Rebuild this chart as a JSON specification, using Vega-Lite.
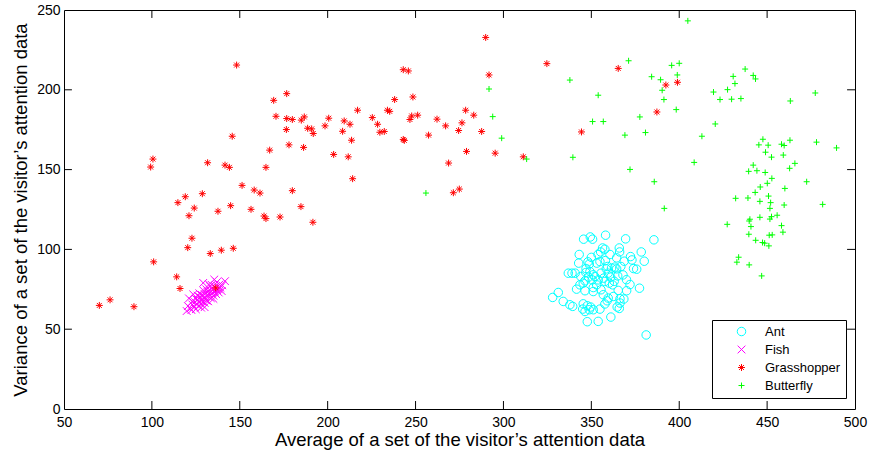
{
"$schema": "https://vega.github.io/schema/vega-lite/v6.json",
"width": 791, "height": 399,
"autosize": {"type": "none"},
"padding": {"left": 64, "top": 10, "right": 16, "bottom": 43},
"background": "white",
"config": {
  "view": {"stroke": "black", "strokeWidth": 1},
  "font": "Liberation Sans",
  "axis": {"grid": false, "domain": false, "ticks": false, "labelFlush": false,
           "labelColor": "black", "labelFontSize": 14, "labelFont": "Liberation Sans",
           "titleFont": "Liberation Sans", "titleFontSize": 18.5, "titleFontWeight": "normal", "titleColor": "black"},
  "axisX": {"labelPadding": 6, "titlePadding": 1},
  "axisY": {"labelPadding": 4, "titlePadding": 6},
  "legend": {"strokeColor": "black", "strokeWidth": 1, "fillColor": "white", "padding": 5,
             "labelFontSize": 13, "labelFont": "Liberation Sans", "labelColor": "black",
             "symbolOffset": 18, "labelOffset": 17, "rowPadding": 4, "symbolStrokeWidth": 1.2}
},
"datasets": {
"xticks": [{"tx":100,"ty":0,"ty2":5},{"tx":150,"ty":0,"ty2":5},{"tx":200,"ty":0,"ty2":5},{"tx":250,"ty":0,"ty2":5},{"tx":300,"ty":0,"ty2":5},{"tx":350,"ty":0,"ty2":5},{"tx":400,"ty":0,"ty2":5},{"tx":450,"ty":0,"ty2":5},{"tx":100,"ty":245,"ty2":250},{"tx":150,"ty":245,"ty2":250},{"tx":200,"ty":245,"ty2":250},{"tx":250,"ty":245,"ty2":250},{"tx":300,"ty":245,"ty2":250},{"tx":350,"ty":245,"ty2":250},{"tx":400,"ty":245,"ty2":250},{"tx":450,"ty":245,"ty2":250}],
"yticks": [{"tx":50,"tx2":54.5,"ty":50},{"tx":50,"tx2":54.5,"ty":100},{"tx":50,"tx2":54.5,"ty":150},{"tx":50,"tx2":54.5,"ty":200},{"tx":495.5,"tx2":500,"ty":50},{"tx":495.5,"tx2":500,"ty":100},{"tx":495.5,"tx2":500,"ty":150},{"tx":495.5,"tx2":500,"ty":200}],
"pts": [
{"avg":358.1,"var":108.9,"cls":"Ant"},{"avg":345.6,"var":106.4,"cls":"Ant"},{"avg":349.4,"var":107.8,"cls":"Ant"},{"avg":350.7,"var":106.4,"cls":"Ant"},{"avg":369.5,"var":106.6,"cls":"Ant"},{"avg":385.6,"var":106,"cls":"Ant"},{"avg":343.1,"var":96.8,"cls":"Ant"},{"avg":356.4,"var":100.9,"cls":"Ant"},{"avg":357.7,"var":100.1,"cls":"Ant"},{"avg":355.3,"var":98.4,"cls":"Ant"},{"avg":353.8,"var":96.8,"cls":"Ant"},{"avg":365.9,"var":100.9,"cls":"Ant"},{"avg":366.1,"var":98.4,"cls":"Ant"},{"avg":360.6,"var":96.8,"cls":"Ant"},{"avg":364.4,"var":94.7,"cls":"Ant"},{"avg":372.3,"var":95.5,"cls":"Ant"},{"avg":373.1,"var":93.4,"cls":"Ant"},{"avg":378.4,"var":98.4,"cls":"Ant"},{"avg":380.1,"var":92.6,"cls":"Ant"},{"avg":342.8,"var":91.4,"cls":"Ant"},{"avg":348.1,"var":92.2,"cls":"Ant"},{"avg":348.8,"var":90.8,"cls":"Ant"},{"avg":353.1,"var":91.4,"cls":"Ant"},{"avg":354.9,"var":92.4,"cls":"Ant"},{"avg":359.3,"var":89.3,"cls":"Ant"},{"avg":361.5,"var":88.3,"cls":"Ant"},{"avg":363.4,"var":88.9,"cls":"Ant"},{"avg":366.8,"var":89.3,"cls":"Ant"},{"avg":368.7,"var":92.6,"cls":"Ant"},{"avg":374,"var":88,"cls":"Ant"},{"avg":375.8,"var":87.6,"cls":"Ant"},{"avg":336.9,"var":85.1,"cls":"Ant"},{"avg":339,"var":85.1,"cls":"Ant"},{"avg":340.8,"var":85.1,"cls":"Ant"},{"avg":346.9,"var":85.5,"cls":"Ant"},{"avg":349.2,"var":86.1,"cls":"Ant"},{"avg":351.1,"var":84.1,"cls":"Ant"},{"avg":348.4,"var":82.6,"cls":"Ant"},{"avg":350.5,"var":80.9,"cls":"Ant"},{"avg":346.4,"var":80.3,"cls":"Ant"},{"avg":355.5,"var":85.1,"cls":"Ant"},{"avg":358.5,"var":87.8,"cls":"Ant"},{"avg":359.6,"var":85.1,"cls":"Ant"},{"avg":361,"var":82.6,"cls":"Ant"},{"avg":365,"var":83.4,"cls":"Ant"},{"avg":364.4,"var":87.8,"cls":"Ant"},{"avg":357.7,"var":79.9,"cls":"Ant"},{"avg":360.2,"var":78.9,"cls":"Ant"},{"avg":362.1,"var":77.8,"cls":"Ant"},{"avg":353.9,"var":80.9,"cls":"Ant"},{"avg":353,"var":77.8,"cls":"Ant"},{"avg":351.1,"var":76.1,"cls":"Ant"},{"avg":345.4,"var":78.9,"cls":"Ant"},{"avg":343.5,"var":77.8,"cls":"Ant"},{"avg":341.6,"var":75.1,"cls":"Ant"},{"avg":346.4,"var":74.1,"cls":"Ant"},{"avg":351.1,"var":73.6,"cls":"Ant"},{"avg":355.5,"var":74.7,"cls":"Ant"},{"avg":356.8,"var":71.6,"cls":"Ant"},{"avg":365.3,"var":74.3,"cls":"Ant"},{"avg":370.1,"var":74.1,"cls":"Ant"},{"avg":377.4,"var":75.7,"cls":"Ant"},{"avg":366.3,"var":69.1,"cls":"Ant"},{"avg":368.5,"var":68.9,"cls":"Ant"},{"avg":366.3,"var":66.4,"cls":"Ant"},{"avg":362.5,"var":70.5,"cls":"Ant"},{"avg":359.6,"var":69.5,"cls":"Ant"},{"avg":359,"var":67.8,"cls":"Ant"},{"avg":357.7,"var":65.8,"cls":"Ant"},{"avg":331.2,"var":73,"cls":"Ant"},{"avg":328,"var":69.9,"cls":"Ant"},{"avg":334,"var":67.4,"cls":"Ant"},{"avg":337.8,"var":65.3,"cls":"Ant"},{"avg":339.4,"var":64.3,"cls":"Ant"},{"avg":345.4,"var":65.9,"cls":"Ant"},{"avg":347.7,"var":64.7,"cls":"Ant"},{"avg":345.1,"var":62.6,"cls":"Ant"},{"avg":346.4,"var":61.1,"cls":"Ant"},{"avg":349.6,"var":63.9,"cls":"Ant"},{"avg":351.1,"var":62.2,"cls":"Ant"},{"avg":354.9,"var":62.6,"cls":"Ant"},{"avg":348.8,"var":62.2,"cls":"Ant"},{"avg":364.7,"var":63.9,"cls":"Ant"},{"avg":365.9,"var":63,"cls":"Ant"},{"avg":361.1,"var":57.6,"cls":"Ant"},{"avg":347.7,"var":54.7,"cls":"Ant"},{"avg":353.9,"var":54.9,"cls":"Ant"},{"avg":381.2,"var":46.4,"cls":"Ant"},{"avg":352,"var":83,"cls":"Ant"},{"avg":357,"var":82,"cls":"Ant"},{"avg":363,"var":80,"cls":"Ant"},{"avg":347,"var":88,"cls":"Ant"},{"avg":344,"var":83,"cls":"Ant"},{"avg":370,"var":81,"cls":"Ant"},{"avg":372,"var":78,"cls":"Ant"},{"avg":368,"var":84,"cls":"Ant"},{"avg":358,"var":93,"cls":"Ant"},{"avg":350,"var":95,"cls":"Ant"},
{"avg":119.8,"var":61.4,"cls":"Fish"},{"avg":121.1,"var":69.3,"cls":"Fish"},{"avg":123.5,"var":71.8,"cls":"Fish"},{"avg":129.2,"var":79,"cls":"Fish"},{"avg":135.5,"var":81.1,"cls":"Fish"},{"avg":141.6,"var":80.1,"cls":"Fish"},{"avg":139.7,"var":73.9,"cls":"Fish"},{"avg":122,"var":63,"cls":"Fish"},{"avg":123,"var":65.5,"cls":"Fish"},{"avg":124,"var":64,"cls":"Fish"},{"avg":124.5,"var":67,"cls":"Fish"},{"avg":125,"var":62.5,"cls":"Fish"},{"avg":125.5,"var":66,"cls":"Fish"},{"avg":126,"var":68.5,"cls":"Fish"},{"avg":126.5,"var":64.5,"cls":"Fish"},{"avg":127,"var":67,"cls":"Fish"},{"avg":127.5,"var":70,"cls":"Fish"},{"avg":128,"var":65.5,"cls":"Fish"},{"avg":128,"var":68,"cls":"Fish"},{"avg":128.5,"var":71.5,"cls":"Fish"},{"avg":129,"var":67,"cls":"Fish"},{"avg":129.5,"var":69.5,"cls":"Fish"},{"avg":130,"var":72,"cls":"Fish"},{"avg":130,"var":66.5,"cls":"Fish"},{"avg":130.5,"var":70,"cls":"Fish"},{"avg":131,"var":68,"cls":"Fish"},{"avg":131.5,"var":73.5,"cls":"Fish"},{"avg":132,"var":70.5,"cls":"Fish"},{"avg":132,"var":67.5,"cls":"Fish"},{"avg":132.5,"var":72,"cls":"Fish"},{"avg":133,"var":74.5,"cls":"Fish"},{"avg":133.5,"var":69.5,"cls":"Fish"},{"avg":134,"var":72.5,"cls":"Fish"},{"avg":134.5,"var":75,"cls":"Fish"},{"avg":135,"var":71,"cls":"Fish"},{"avg":135.5,"var":73.5,"cls":"Fish"},{"avg":136,"var":76.5,"cls":"Fish"},{"avg":136.5,"var":72,"cls":"Fish"},{"avg":137,"var":74.5,"cls":"Fish"},{"avg":137.5,"var":77,"cls":"Fish"},{"avg":138,"var":75,"cls":"Fish"},{"avg":138.5,"var":78,"cls":"Fish"},{"avg":139,"var":76,"cls":"Fish"},{"avg":140,"var":77.5,"cls":"Fish"},{"avg":127,"var":72.5,"cls":"Fish"},{"avg":125,"var":69,"cls":"Fish"},{"avg":131,"var":75,"cls":"Fish"},{"avg":133,"var":77,"cls":"Fish"},{"avg":128,"var":63.5,"cls":"Fish"},{"avg":135,"var":69,"cls":"Fish"},{"avg":123,"var":67.5,"cls":"Fish"},{"avg":126,"var":71,"cls":"Fish"},{"avg":129.5,"var":74,"cls":"Fish"},{"avg":132.5,"var":78,"cls":"Fish"},{"avg":137,"var":79.5,"cls":"Fish"},{"avg":122.5,"var":62,"cls":"Fish"},{"avg":120.5,"var":64.5,"cls":"Fish"},{"avg":138,"var":73,"cls":"Fish"},{"avg":134,"var":77.8,"cls":"Fish"},{"avg":130,"var":63.8,"cls":"Fish"},
{"avg":148.2,"var":215.5,"cls":"Grasshopper"},{"avg":176.7,"var":197.6,"cls":"Grasshopper"},{"avg":169.3,"var":193.4,"cls":"Grasshopper"},{"avg":170.6,"var":183.4,"cls":"Grasshopper"},{"avg":176.7,"var":182,"cls":"Grasshopper"},{"avg":179.9,"var":181.4,"cls":"Grasshopper"},{"avg":185,"var":181,"cls":"Grasshopper"},{"avg":186.7,"var":183,"cls":"Grasshopper"},{"avg":200.6,"var":182.2,"cls":"Grasshopper"},{"avg":209.4,"var":180.5,"cls":"Grasshopper"},{"avg":212.7,"var":178.4,"cls":"Grasshopper"},{"avg":217,"var":187.2,"cls":"Grasshopper"},{"avg":176.5,"var":175.1,"cls":"Grasshopper"},{"avg":188.6,"var":175.9,"cls":"Grasshopper"},{"avg":190.9,"var":175.5,"cls":"Grasshopper"},{"avg":191.8,"var":172.6,"cls":"Grasshopper"},{"avg":198.5,"var":177.4,"cls":"Grasshopper"},{"avg":208.5,"var":174,"cls":"Grasshopper"},{"avg":213.6,"var":168.4,"cls":"Grasshopper"},{"avg":145.7,"var":170.9,"cls":"Grasshopper"},{"avg":167,"var":162.2,"cls":"Grasshopper"},{"avg":178,"var":165.5,"cls":"Grasshopper"},{"avg":186.3,"var":163.9,"cls":"Grasshopper"},{"avg":203.4,"var":159.5,"cls":"Grasshopper"},{"avg":211.7,"var":158,"cls":"Grasshopper"},{"avg":214.2,"var":144.3,"cls":"Grasshopper"},{"avg":100.6,"var":156.6,"cls":"Grasshopper"},{"avg":99.3,"var":151.6,"cls":"Grasshopper"},{"avg":131.7,"var":154.3,"cls":"Grasshopper"},{"avg":141.6,"var":152.8,"cls":"Grasshopper"},{"avg":144.1,"var":151.4,"cls":"Grasshopper"},{"avg":164.9,"var":151.4,"cls":"Grasshopper"},{"avg":151.3,"var":140.1,"cls":"Grasshopper"},{"avg":158.2,"var":137.2,"cls":"Grasshopper"},{"avg":161.5,"var":135.3,"cls":"Grasshopper"},{"avg":179.9,"var":136.8,"cls":"Grasshopper"},{"avg":119,"var":133,"cls":"Grasshopper"},{"avg":114.8,"var":129.3,"cls":"Grasshopper"},{"avg":128.7,"var":134.9,"cls":"Grasshopper"},{"avg":124.1,"var":125.9,"cls":"Grasshopper"},{"avg":121.1,"var":121.1,"cls":"Grasshopper"},{"avg":137.6,"var":123.9,"cls":"Grasshopper"},{"avg":144.8,"var":127.4,"cls":"Grasshopper"},{"avg":156.4,"var":125.1,"cls":"Grasshopper"},{"avg":163.8,"var":120.9,"cls":"Grasshopper"},{"avg":164.9,"var":119.3,"cls":"Grasshopper"},{"avg":172.9,"var":120.3,"cls":"Grasshopper"},{"avg":184.8,"var":126.8,"cls":"Grasshopper"},{"avg":191.6,"var":117,"cls":"Grasshopper"},{"avg":122.8,"var":107,"cls":"Grasshopper"},{"avg":120.4,"var":101.1,"cls":"Grasshopper"},{"avg":133.2,"var":97.4,"cls":"Grasshopper"},{"avg":139.5,"var":99.5,"cls":"Grasshopper"},{"avg":146.3,"var":100.7,"cls":"Grasshopper"},{"avg":101,"var":92.2,"cls":"Grasshopper"},{"avg":114.1,"var":82.8,"cls":"Grasshopper"},{"avg":116,"var":75.5,"cls":"Grasshopper"},{"avg":136.3,"var":75.9,"cls":"Grasshopper"},{"avg":70.1,"var":64.9,"cls":"Grasshopper"},{"avg":76.2,"var":68.4,"cls":"Grasshopper"},{"avg":89.8,"var":64.1,"cls":"Grasshopper"},{"avg":289.9,"var":232.8,"cls":"Grasshopper"},{"avg":324.7,"var":216.4,"cls":"Grasshopper"},{"avg":243,"var":212.6,"cls":"Grasshopper"},{"avg":245.9,"var":211.8,"cls":"Grasshopper"},{"avg":291.8,"var":209.3,"cls":"Grasshopper"},{"avg":238.1,"var":193.9,"cls":"Grasshopper"},{"avg":248.5,"var":195.5,"cls":"Grasshopper"},{"avg":234,"var":187.2,"cls":"Grasshopper"},{"avg":235.3,"var":186.5,"cls":"Grasshopper"},{"avg":225.4,"var":182.6,"cls":"Grasshopper"},{"avg":228.4,"var":178.4,"cls":"Grasshopper"},{"avg":229.7,"var":173.4,"cls":"Grasshopper"},{"avg":232.2,"var":173.9,"cls":"Grasshopper"},{"avg":246.8,"var":181.4,"cls":"Grasshopper"},{"avg":247.8,"var":183.6,"cls":"Grasshopper"},{"avg":251.2,"var":184.1,"cls":"Grasshopper"},{"avg":262.2,"var":181.6,"cls":"Grasshopper"},{"avg":267.1,"var":177.4,"cls":"Grasshopper"},{"avg":278.5,"var":187.2,"cls":"Grasshopper"},{"avg":283.1,"var":184.1,"cls":"Grasshopper"},{"avg":276.4,"var":179.3,"cls":"Grasshopper"},{"avg":274.5,"var":174.5,"cls":"Grasshopper"},{"avg":287.6,"var":173.9,"cls":"Grasshopper"},{"avg":257.4,"var":171.6,"cls":"Grasshopper"},{"avg":243,"var":168.9,"cls":"Grasshopper"},{"avg":243.6,"var":168.3,"cls":"Grasshopper"},{"avg":279,"var":161.4,"cls":"Grasshopper"},{"avg":295.3,"var":160.3,"cls":"Grasshopper"},{"avg":268.8,"var":154.1,"cls":"Grasshopper"},{"avg":344.4,"var":173.6,"cls":"Grasshopper"},{"avg":311.3,"var":158,"cls":"Grasshopper"},{"avg":271.5,"var":135.5,"cls":"Grasshopper"},{"avg":274.9,"var":137.8,"cls":"Grasshopper"},{"avg":365.3,"var":213.4,"cls":"Grasshopper"},{"avg":392.4,"var":203,"cls":"Grasshopper"},{"avg":399,"var":204.7,"cls":"Grasshopper"},{"avg":387.3,"var":186.1,"cls":"Grasshopper"},
{"avg":291.8,"var":200.5,"cls":"Butterfly"},{"avg":293.9,"var":183.2,"cls":"Butterfly"},{"avg":299,"var":169.7,"cls":"Butterfly"},{"avg":313.2,"var":156.6,"cls":"Butterfly"},{"avg":255.9,"var":135.3,"cls":"Butterfly"},{"avg":337.8,"var":206.1,"cls":"Butterfly"},{"avg":353.9,"var":196.6,"cls":"Butterfly"},{"avg":350.7,"var":180.1,"cls":"Butterfly"},{"avg":339.5,"var":157.7,"cls":"Butterfly"},{"avg":404.9,"var":243.2,"cls":"Butterfly"},{"avg":371.2,"var":218.2,"cls":"Butterfly"},{"avg":395.7,"var":215.3,"cls":"Butterfly"},{"avg":400,"var":216.6,"cls":"Butterfly"},{"avg":398.9,"var":209.3,"cls":"Butterfly"},{"avg":384.3,"var":208.2,"cls":"Butterfly"},{"avg":389.4,"var":206.3,"cls":"Butterfly"},{"avg":390.3,"var":199.7,"cls":"Butterfly"},{"avg":391.3,"var":193.9,"cls":"Butterfly"},{"avg":398.3,"var":187.6,"cls":"Butterfly"},{"avg":377.6,"var":183,"cls":"Butterfly"},{"avg":356.8,"var":180.1,"cls":"Butterfly"},{"avg":369.1,"var":171.6,"cls":"Butterfly"},{"avg":380.8,"var":173.2,"cls":"Butterfly"},{"avg":412.9,"var":170.9,"cls":"Butterfly"},{"avg":420.5,"var":178.6,"cls":"Butterfly"},{"avg":372,"var":150.1,"cls":"Butterfly"},{"avg":408.5,"var":154.5,"cls":"Butterfly"},{"avg":385.8,"var":142.4,"cls":"Butterfly"},{"avg":391.5,"var":125.7,"cls":"Butterfly"},{"avg":430.7,"var":208.4,"cls":"Butterfly"},{"avg":437.5,"var":213,"cls":"Butterfly"},{"avg":442.1,"var":209,"cls":"Butterfly"},{"avg":443.4,"var":206.8,"cls":"Butterfly"},{"avg":431.7,"var":203.9,"cls":"Butterfly"},{"avg":419.5,"var":198.6,"cls":"Butterfly"},{"avg":427.5,"var":200.1,"cls":"Butterfly"},{"avg":423.2,"var":193.9,"cls":"Butterfly"},{"avg":429.8,"var":194.1,"cls":"Butterfly"},{"avg":435.1,"var":194.5,"cls":"Butterfly"},{"avg":477.4,"var":198,"cls":"Butterfly"},{"avg":463.2,"var":193,"cls":"Butterfly"},{"avg":447.6,"var":169,"cls":"Butterfly"},{"avg":445.3,"var":165.5,"cls":"Butterfly"},{"avg":450.6,"var":165.3,"cls":"Butterfly"},{"avg":458.2,"var":165.9,"cls":"Butterfly"},{"avg":459.7,"var":165.1,"cls":"Butterfly"},{"avg":463,"var":168.4,"cls":"Butterfly"},{"avg":478.1,"var":167.2,"cls":"Butterfly"},{"avg":489.5,"var":163.6,"cls":"Butterfly"},{"avg":449.1,"var":160.9,"cls":"Butterfly"},{"avg":452.5,"var":157.8,"cls":"Butterfly"},{"avg":459.2,"var":159.1,"cls":"Butterfly"},{"avg":442.1,"var":152.8,"cls":"Butterfly"},{"avg":439.5,"var":148.9,"cls":"Butterfly"},{"avg":444.2,"var":149.3,"cls":"Butterfly"},{"avg":448.9,"var":148.2,"cls":"Butterfly"},{"avg":465.8,"var":153.9,"cls":"Butterfly"},{"avg":462.8,"var":150.8,"cls":"Butterfly"},{"avg":452.7,"var":144.5,"cls":"Butterfly"},{"avg":450.1,"var":141.4,"cls":"Butterfly"},{"avg":472.5,"var":142.4,"cls":"Butterfly"},{"avg":446.1,"var":139.1,"cls":"Butterfly"},{"avg":443.2,"var":135.7,"cls":"Butterfly"},{"avg":460.1,"var":138.2,"cls":"Butterfly"},{"avg":432.1,"var":132,"cls":"Butterfly"},{"avg":439.1,"var":132.2,"cls":"Butterfly"},{"avg":450.8,"var":133.4,"cls":"Butterfly"},{"avg":445.9,"var":130.1,"cls":"Butterfly"},{"avg":452,"var":129.3,"cls":"Butterfly"},{"avg":451.6,"var":125.7,"cls":"Butterfly"},{"avg":459.7,"var":127.8,"cls":"Butterfly"},{"avg":481.6,"var":128.2,"cls":"Butterfly"},{"avg":455.7,"var":121.4,"cls":"Butterfly"},{"avg":452.5,"var":120.5,"cls":"Butterfly"},{"avg":451.6,"var":119,"cls":"Butterfly"},{"avg":445.9,"var":120.1,"cls":"Butterfly"},{"avg":440.2,"var":118.9,"cls":"Butterfly"},{"avg":439.8,"var":117.8,"cls":"Butterfly"},{"avg":440.8,"var":114.3,"cls":"Butterfly"},{"avg":427.3,"var":115.7,"cls":"Butterfly"},{"avg":458.2,"var":114.9,"cls":"Butterfly"},{"avg":459,"var":110.8,"cls":"Butterfly"},{"avg":439.6,"var":109.5,"cls":"Butterfly"},{"avg":451.2,"var":108.9,"cls":"Butterfly"},{"avg":452.9,"var":109.1,"cls":"Butterfly"},{"avg":443.5,"var":105.7,"cls":"Butterfly"},{"avg":447.4,"var":104.3,"cls":"Butterfly"},{"avg":448.6,"var":103.9,"cls":"Butterfly"},{"avg":451,"var":102.2,"cls":"Butterfly"},{"avg":433.8,"var":95.1,"cls":"Butterfly"},{"avg":432.8,"var":92,"cls":"Butterfly"},{"avg":439.8,"var":90.3,"cls":"Butterfly"},{"avg":446.9,"var":83.4,"cls":"Butterfly"}
]},
"layer": [
  {
    "data": {"name": "pts"},
    "mark": {"type": "point", "filled": false, "opacity": 1},
    "encoding": {
      "x": {"field": "avg", "type": "quantitative",
            "scale": {"domain": [50, 500], "nice": false, "zero": false},
            "axis": {"orient": "bottom", "title": "Average of a set of the visitor’s attention data", "values": [50,100,150,200,250,300,350,400,450,500]}},
      "y": {"field": "var", "type": "quantitative",
            "scale": {"domain": [0, 250], "nice": false, "zero": false},
            "axis": {"orient": "left", "title": "Variance of a set of the visitor’s attention data", "values": [0,50,100,150,200,250]}},
      "color": {"field": "cls", "type": "nominal",
                "scale": {"domain": ["Ant","Fish","Grasshopper","Butterfly"], "range": ["#00FFFF","#FF00FF","#FF0000","#00FF00"]},
                "legend": {"title": null, "orient": "none", "legendX": 648, "legendY": 310}},
      "shape": {"field": "cls", "type": "nominal",
                "scale": {"domain": ["Ant","Fish","Grasshopper","Butterfly"],
                          "range": ["circle","M-1,-1L1,1M-1,1L1,-1","M-1,0L1,0M0,-1L0,1M-0.71,-0.71L0.71,0.71M-0.71,0.71L0.71,-0.71","M-1,0L1,0M0,-1L0,1"]},
                "legend": {"title": null, "orient": "none", "legendX": 648, "legendY": 310}},
      "size": {"field": "cls", "type": "nominal",
               "scale": {"domain": ["Ant","Fish","Grasshopper","Butterfly"], "range": [72, 36, 72, 81]},
               "legend": {"title": null, "orient": "none", "legendX": 648, "legendY": 310}},
      "strokeWidth": {"field": "cls", "type": "nominal",
               "scale": {"domain": ["Ant","Fish","Grasshopper","Butterfly"], "range": [1, 1, 1.4, 1.4]},
               "legend": null}
    }
  },
  {
    "data": {"name": "xticks"},
    "mark": {"type": "rule", "color": "black", "strokeWidth": 1},
    "encoding": {
      "x": {"field": "tx", "type": "quantitative",
            "axis": {"orient": "bottom", "title": "Average of a set of the visitor’s attention data", "values": [50,100,150,200,250,300,350,400,450,500]}},
      "y": {"field": "ty", "type": "quantitative",
            "axis": {"orient": "left", "title": "Variance of a set of the visitor’s attention data", "values": [0,50,100,150,200,250]}},
      "y2": {"field": "ty2"}
    }
  },
  {
    "data": {"name": "yticks"},
    "mark": {"type": "rule", "color": "black", "strokeWidth": 1},
    "encoding": {
      "x": {"field": "tx", "type": "quantitative",
            "axis": {"orient": "bottom", "title": "Average of a set of the visitor’s attention data", "values": [50,100,150,200,250,300,350,400,450,500]}},
      "x2": {"field": "tx2"},
      "y": {"field": "ty", "type": "quantitative",
            "axis": {"orient": "left", "title": "Variance of a set of the visitor’s attention data", "values": [0,50,100,150,200,250]}}
    }
  }
]
}
